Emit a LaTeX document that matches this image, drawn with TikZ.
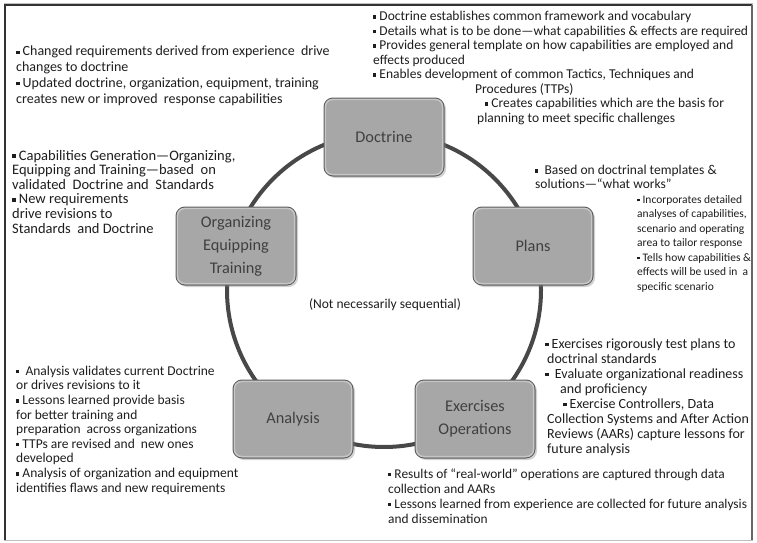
\documentclass[tikz,border=0pt]{standalone}
\usepackage{fontspec}
\setmainfont{Carlito}
\usetikzlibrary{shadows}
\definecolor{txtc}{HTML}{1E1E1E}
\definecolor{boxfill}{HTML}{A7A7A7}
\definecolor{boxline}{HTML}{5E5E5E}
\definecolor{rimc}{HTML}{C6C6C6}
\definecolor{ringc}{HTML}{484848}
\newcommand\bl{\raisebox{0.14em}{\rule{0.24em}{0.24em}}}
\newcommand\fs[2]{\fontsize{#1}{#2}\selectfont}
\tikzset{
  txt/.style={align=left, inner sep=0pt, anchor=base west, text=txtc,
    font=\fs{13.5}{14.5}},
  stage/.style={draw=boxline, line width=1pt, fill=boxfill, rounded corners=9pt,
    minimum width=120pt, minimum height=78pt, align=center, text=txtc!85!white,
    font=\fs{16.3}{23},
    drop shadow={shadow xshift=2pt, shadow yshift=-2pt, opacity=0.35}},
  rim/.style={draw=rimc, line width=1.4pt, rounded corners=7pt},
  ring/.style={draw=ringc, line width=4pt},
  frameedge/.style={draw=#1}
}
\begin{document}
\begin{tikzpicture}[x=1pt,y=-1pt]
\useasboundingbox (0,0) rectangle (757,543);
\fill[white] (0,0) rectangle (757,543);
% frame
\draw[frameedge=black!25, line width=1pt] (4,4) rectangle (752,540);
\draw[frameedge=black!80, line width=2.5pt] (5,540) -- (5,5) -- (752,5);
\draw[frameedge=black!60, line width=1.2pt] (752,5) -- (752,540);
% ring
\coordinate (c) at (384,290);
\draw[ring] (c) circle[radius=157];
% stages
\node[stage] (doc) at (384,137) {Doctrine};
\node[stage] (plans) at (533,246) {Plans};
\node[stage] (oet) at (236,246) {Organizing\\Equipping\\Training};
\node[stage] (ana) at (293,419) {Analysis};
\node[stage] (exo) at (475,419) {Exercises\\Operations};
\foreach \n in {doc,plans,oet,ana,exo}
  \draw[rim] ([shift={(2pt,-2pt)}]\n.north west) rectangle ([shift={(-2pt,2pt)}]\n.south east);
\node[txt, anchor=center, font=\fs{13.5}{14}] (ns) at (385,305) {(Not necessarily sequential)};
% text blocks (anchored at baseline of last line)
\node[txt, font=\fs{14}{15.7}] (ttl) at (16,103) {\bl{} Changed requirements derived from experience\ \ drive\\changes to doctrine\\\bl{} Updated doctrine, organization, equipment, training\\creates new or improved\ \ response capabilities};
\node[txt, font=\fs{13.5}{14.5}] (ttr) at (373,122) {\bl{} Doctrine establishes common framework and vocabulary\\\bl{} Details what is to be done---what capabilities \& effects are required\\\bl{} Provides general template on how capabilities are employed and\\effects produced\\\bl{} Enables development of common Tactics, Techniques and\\\hspace*{102pt}Procedures (TTPs)\\\hspace*{112pt}\bl{} Creates capabilities which are the basis for\\\hspace*{104pt}planning to meet specific challenges};
\node[txt, font=\fs{14.5}{14.6}] (tml) at (12,233) {\bl{} Capabilities Generation---Organizing,\\Equipping and Training---based\ \ on\\validated\ \ Doctrine and\ \ Standards\\\bl{} New requirements\\drive revisions to\\Standards\ \ and Doctrine};
\node[txt, font=\fs{13.5}{13.5}] (tpl1) at (535,188) {\bl{}\ \ Based on doctrinal templates \&\\solutions---``what works''};
\node[txt, font=\fs{11.5}{14.5}] (tpl2) at (637,290) {\bl{} Incorporates detailed\\analyses of capabilities,\\scenario and operating\\area to tailor response\\\bl{} Tells how capabilities \&\\effects will be used in\ \ a\\specific scenario};
\node[txt, font=\fs{14}{15}] (tex) at (545,453) {\bl{} Exercises rigorously test plans to\\\hspace*{2pt}doctrinal standards\\\bl{}\ \ Evaluate organizational readiness\\\hspace*{15pt}and proficiency\\\hspace*{18pt}\bl{} Exercise Controllers, Data\\\hspace*{2pt}Collection Systems and After Action\\\hspace*{2pt}Reviews (AARs) capture lessons for\\\hspace*{2pt}future analysis};
\node[txt, font=\fs{13.4}{15}] (tbo) at (388,523) {\bl{} Results of ``real-world'' operations are captured through data\\collection and AARs\\\bl{} Lessons learned from experience are collected for future analysis\\and dissemination};
\node[txt, font=\fs{13.5}{14.6}] (tan) at (16,492) {\bl{}\ \ Analysis validates current Doctrine\\or drives revisions to it\\\bl{} Lessons learned provide basis\\for better training and\\preparation\ \ across organizations\\\bl{} TTPs are revised and\ \ new ones\\developed\\\bl{} Analysis of organization and equipment\\identifies flaws and new requirements};
\end{tikzpicture}
\end{document}
